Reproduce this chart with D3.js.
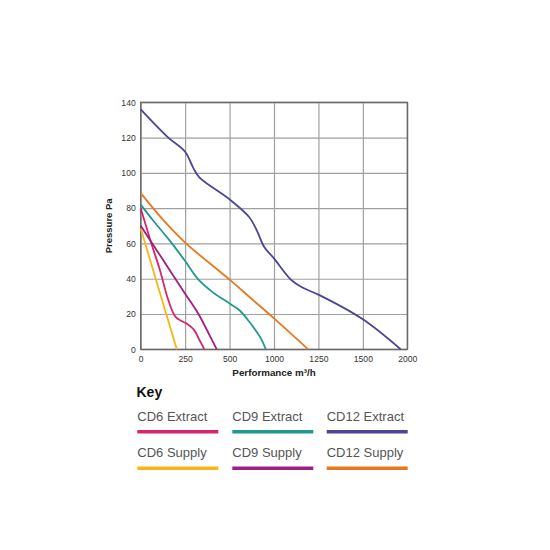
<!DOCTYPE html>
<html>
<head>
<meta charset="utf-8">
<script src="https://cdn.jsdelivr.net/npm/d3@7"></script>
<style>
  body { margin: 0; background: #fff; }
  svg { font-family: "Liberation Sans", Arial, sans-serif; }
</style>
</head>
<body>
<div id="chart"></div>
<script>
// tick labels (the x axis is spaced evenly even though the steps are not)
const xTicks = [0, 250, 500, 1000, 1250, 1500, 2000];
const yTicks = [0, 20, 40, 60, 80, 100, 120, 140];

// performance curves: flow (m³/h) and pressure (Pa)
const cd6ExtractFlow = [0, 60, 108, 155, 195, 230, 260, 300, 332, 358];
const cd6ExtractPa = [80, 60, 45, 28, 18.5, 16, 14.5, 11, 5, 0];
const cd9ExtractFlow = [0, 70, 160, 250, 325, 410, 500, 615, 700, 790, 860, 907];
const cd9ExtractPa = [82, 73, 62, 50, 39.5, 32, 26, 22, 17, 11, 5.5, 0];
const cd12ExtractFlow = [0, 155, 250, 295, 330, 500, 720, 810, 890, 1000, 1095, 1160, 1250, 1500, 1925];
const cd12ExtractPa = [136, 120, 112, 103, 97.5, 85, 75, 67, 58, 51.5, 39.5, 35, 31, 17, 0];
const cd6SupplyFlow = [0, 203];
const cd6SupplyPa = [68.5, 0];
const cd9SupplyFlow = [0, 117, 250, 325, 390, 428];
const cd9SupplyPa = [70, 52, 31.5, 20, 7.5, 0];
const cd12SupplyFlow = [0, 125, 250, 500, 750, 1000, 1192];
const cd12SupplyPa = [88.5, 73.5, 60.5, 39.5, 28.5, 17.5, 0];

const seriesNames = ['CD6 Extract', 'CD9 Extract', 'CD12 Extract', 'CD6 Supply', 'CD9 Supply', 'CD12 Supply'];
const seriesColors = ['#d6246e', '#1f9a8c', '#4b4594', '#f6b619', '#9d1f83', '#e8771f'];

const series = [
  [cd6ExtractFlow, cd6ExtractPa],
  [cd9ExtractFlow, cd9ExtractPa],
  [cd12ExtractFlow, cd12ExtractPa],
  [cd6SupplyFlow, cd6SupplyPa],
  [cd9SupplyFlow, cd9SupplyPa],
  [cd12SupplyFlow, cd12SupplyPa]
].map(([fl, pa], i) => ({
  name: seriesNames[i],
  color: seriesColors[i],
  points: fl.map((f, j) => ({ flow: f, pa: pa[j] }))
}));

const width = 550;
const height = 550;
const margin = { left: 140.7, top: 102.3 };
const plotW = 266.6;
const plotH = 247;

const svg = d3.select('#chart')
  .append('svg')
  .attr('width', width)
  .attr('height', height);

const x = d3.scaleLinear()
  .domain(xTicks)
  .range(xTicks.map((d, i) => i * plotW / (xTicks.length - 1)));
const y = d3.scaleLinear().domain([0, 140]).range([plotH, 0]);

const g = svg.append('g').attr('transform', `translate(${margin.left},${margin.top})`);

// grid
const xAxis = g.append('g')
  .attr('transform', `translate(0,${plotH})`)
  .call(d3.axisBottom(x).tickValues(xTicks).tickSize(-plotH).tickPadding(7).tickFormat(d3.format('d')));
const yAxis = g.append('g')
  .call(d3.axisLeft(y).tickValues(yTicks).tickSize(-plotW).tickPadding(5));

[xAxis, yAxis].forEach(ax => {
  ax.select('.domain').remove();
  ax.selectAll('line').attr('stroke', '#a0a0a0').attr('stroke-width', 1.2);
  ax.selectAll('text')
    .attr('fill', '#333')
    .style('font-size', '8.6px')
    .style('font-family', '"Liberation Sans", Arial, sans-serif');
});

// frame
g.append('rect')
  .attr('width', plotW)
  .attr('height', plotH)
  .attr('fill', 'none')
  .attr('stroke', '#666')
  .attr('stroke-width', 1.3);

// curves
const line = d3.line()
  .x(d => x(d.flow))
  .y(d => y(d.pa))
  .curve(d3.curveCatmullRom.alpha(0.5));

g.selectAll('path.curve')
  .data(series)
  .join('path')
  .attr('class', 'curve')
  .attr('fill', 'none')
  .attr('stroke', d => d.color)
  .attr('stroke-width', 1.8)
  .attr('d', d => line(d.points));

// axis titles
svg.append('text')
  .attr('x', margin.left + plotW / 2)
  .attr('y', 376)
  .attr('text-anchor', 'middle')
  .attr('font-weight', 'bold')
  .attr('font-size', 9.8)
  .attr('fill', '#222')
  .text('Performance m³/h');

svg.append('text')
  .attr('transform', `translate(112,${margin.top + plotH / 2}) rotate(-90)`)
  .attr('text-anchor', 'middle')
  .attr('font-weight', 'bold')
  .attr('font-size', 9.5)
  .attr('fill', '#222')
  .text('Pressure Pa');

// key
svg.append('text')
  .attr('x', 136.5)
  .attr('y', 397)
  .attr('font-weight', 'bold')
  .attr('font-size', 14)
  .attr('fill', '#111')
  .text('Key');

const colX = [137.3, 232.3, 326.7];
const rowY = [420.5, 457];
const key = svg.selectAll('g.key')
  .data(series)
  .join('g')
  .attr('class', 'key')
  .attr('transform', (d, i) => `translate(${colX[i % 3]},${rowY[Math.floor(i / 3)]})`);

key.append('text')
  .attr('font-size', 13)
  .attr('fill', '#555')
  .text(d => d.name);

key.append('line')
  .attr('x1', 0)
  .attr('x2', 81)
  .attr('y1', 11.3)
  .attr('y2', 11.3)
  .attr('stroke', d => d.color)
  .attr('stroke-width', 3.5);
</script>
</body>
</html>
